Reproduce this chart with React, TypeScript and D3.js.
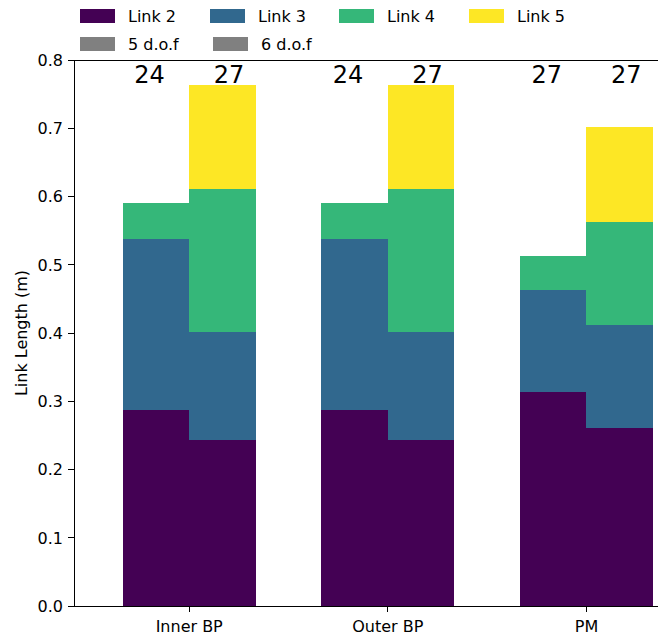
import React from "react";
import * as d3 from "d3";

// Link lengths (m) for each robot configuration, stacked by link
const categories = ["Inner BP", "Outer BP", "PM"];
const linkNames = ["Link 2", "Link 3", "Link 4", "Link 5"];
const linkColors = ["#440154", "#31688e", "#35b779", "#fde725"];

const link2Dof5 = [0.287, 0.287, 0.314];
const link3Dof5 = [0.251, 0.251, 0.149];
const link4Dof5 = [0.053, 0.053, 0.05];

const link2Dof6 = [0.243, 0.243, 0.261];
const link3Dof6 = [0.158, 0.158, 0.151];
const link4Dof6 = [0.21, 0.21, 0.151];
const link5Dof6 = [0.152, 0.152, 0.139];

const countDof5 = [24, 24, 27];
const countDof6 = [27, 27, 27];

const yTicks = [0, 0.1, 0.2, 0.3, 0.4, 0.5, 0.6, 0.7, 0.8];

const W = 658;
const H = 635;
const plot = { left: 74, right: 656, top: 60, bottom: 606 };
const BAR_W = 0.335;
const LABEL_OFF = 0.2;
const FONT = "'DejaVu Sans', sans-serif";

export default function App() {
  const x = d3.scaleLinear().domain([-0.58, 2.35]).range([plot.left, plot.right]);
  const y = d3.scaleLinear().domain([0, 0.8]).range([plot.bottom, plot.top]);

  const rows5 = categories.map((c, i) => ({
    cat: i,
    l2: link2Dof5[i],
    l3: link3Dof5[i],
    l4: link4Dof5[i],
  }));
  const rows6 = categories.map((c, i) => ({
    cat: i,
    l2: link2Dof6[i],
    l3: link3Dof6[i],
    l4: link4Dof6[i],
    l5: link5Dof6[i],
  }));
  const stack5 = d3.stack<any>().keys(["l2", "l3", "l4"])(rows5);
  const stack6 = d3.stack<any>().keys(["l2", "l3", "l4", "l5"])(rows6);

  const bars: JSX.Element[] = [];
  stack5.forEach((layer, li) => {
    layer.forEach((d, i) => {
      const x0 = x(i - BAR_W);
      const x1 = x(i);
      bars.push(
        <rect
          key={`a-${li}-${i}`}
          x={x0}
          width={x1 - x0}
          y={y(d[1])}
          height={y(d[0]) - y(d[1])}
          fill={linkColors[li]}
        />
      );
    });
  });
  stack6.forEach((layer, li) => {
    layer.forEach((d, i) => {
      const x0 = x(i);
      const x1 = x(i + BAR_W);
      bars.push(
        <rect
          key={`b-${li}-${i}`}
          x={x0}
          width={x1 - x0}
          y={y(d[1])}
          height={y(d[0]) - y(d[1])}
          fill={linkColors[li]}
        />
      );
    });
  });

  const legendRow1 = linkNames.map((n, i) => ({ name: n, color: linkColors[i] }));
  const legendX1 = [80, 210, 339, 469];
  const legendRow2 = [
    { name: "5 d.o.f", color: "#808080" },
    { name: "6 d.o.f", color: "#808080" },
  ];
  const legendX2 = [80, 213];

  return (
    <svg
      width={W}
      height={H}
      style={{ position: "absolute", left: 0, top: 0, display: "block", background: "#fff" }}
      fontFamily={FONT}
    >
      <g shapeRendering="crispEdges">{bars}</g>

      {/* spines */}
      <g shapeRendering="crispEdges">
        <line x1={plot.left} x2={plot.left} y1={plot.top} y2={plot.bottom} stroke="#000" strokeWidth={1} />
        <line x1={plot.left} x2={W} y1={plot.top} y2={plot.top} stroke="#000" strokeWidth={1} />
        <line x1={plot.left} x2={W} y1={plot.bottom} y2={plot.bottom} stroke="#000" strokeWidth={1} />
      </g>

      {/* y axis */}
      {yTicks.map((t) => (
        <g key={t}>
          <line
            x1={plot.left - 6}
            x2={plot.left}
            y1={y(t)}
            y2={y(t)}
            stroke="#000"
            strokeWidth={1}
            shapeRendering="crispEdges"
          />
          <text x={plot.left - 11} y={y(t)} dy="0.36em" textAnchor="end" fontSize={16} fill="#000">
            {t.toFixed(1)}
          </text>
        </g>
      ))}
      <text
        transform={`translate(21,${(plot.top + plot.bottom) / 2}) rotate(-90)`}
        textAnchor="middle"
        dy="0.36em"
        fontSize={16}
        fill="#000"
      >
        Link Length (m)
      </text>

      {/* x axis */}
      {categories.map((c, i) => (
        <g key={c}>
          <line
            x1={x(i)}
            x2={x(i)}
            y1={plot.bottom}
            y2={plot.bottom + 6}
            stroke="#000"
            strokeWidth={1}
            shapeRendering="crispEdges"
          />
          <text x={x(i)} y={632} textAnchor="middle" fontSize={16} fill="#000">
            {c}
          </text>
        </g>
      ))}

      {/* degree-of-freedom counts */}
      {categories.map((c, i) => (
        <g key={`n-${c}`}>
          <text x={x(i - LABEL_OFF)} y={83} textAnchor="middle" fontSize={24} fill="#000">
            {countDof5[i]}
          </text>
          <text x={x(i + LABEL_OFF)} y={83} textAnchor="middle" fontSize={24} fill="#000">
            {countDof6[i]}
          </text>
        </g>
      ))}

      {/* legend */}
      {legendRow1.map((e, i) => (
        <g key={e.name}>
          <rect x={legendX1[i]} y={9} width={35} height={14} fill={e.color} />
          <text x={legendX1[i] + 48} y={22} fontSize={16} fill="#000">
            {e.name}
          </text>
        </g>
      ))}
      {legendRow2.map((e, i) => (
        <g key={e.name}>
          <rect x={legendX2[i]} y={37} width={35} height={14} fill={e.color} />
          <text x={legendX2[i] + 48} y={50} fontSize={16} fill="#000">
            {e.name}
          </text>
        </g>
      ))}
    </svg>
  );
}
